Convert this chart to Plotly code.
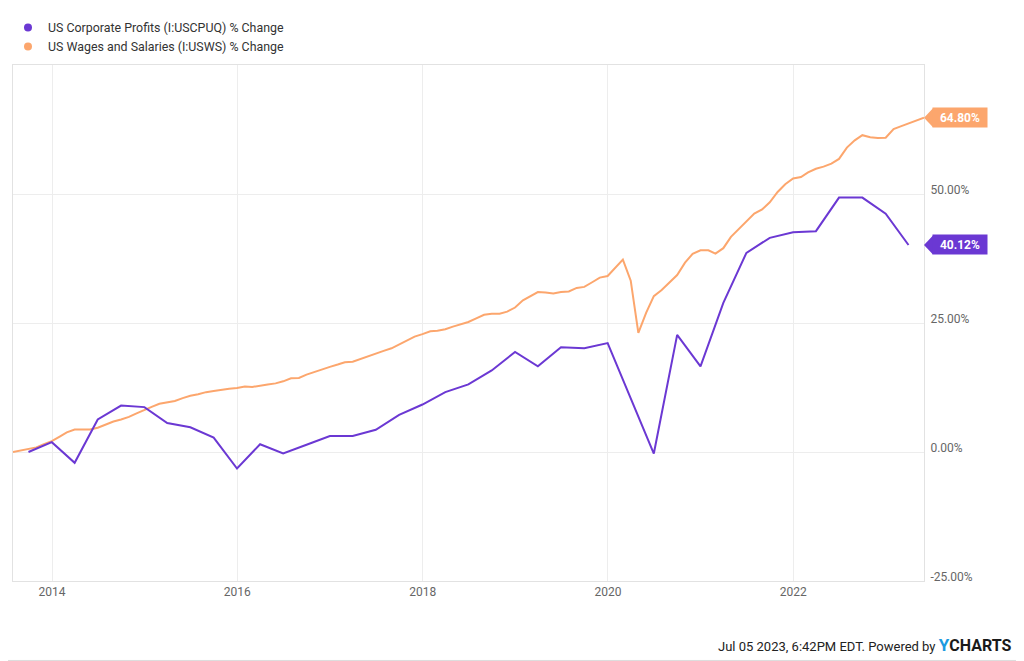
import pandas as pd
import plotly.graph_objects as go

# ---------------- data ----------------
def month_ends(start, n):
    try:
        return pd.date_range(start, periods=n, freq="ME")
    except Exception:
        return pd.date_range(start, periods=n, freq="M")

def quarter_ends(start, n):
    try:
        return pd.date_range(start, periods=n, freq="QE")
    except Exception:
        return pd.date_range(start, periods=n, freq="Q")

profits_name = "US Corporate Profits (I:USCPUQ) % Change"
wages_name = "US Wages and Salaries (I:USWS) % Change"

# quarterly, Q3 2013 .. Q1 2023
profits_dates = quarter_ends("2013-09-30", 39)
profits_pct = [
    0.0, 1.9, -2.1, 6.3, 9.0, 8.7, 5.6, 4.8, 2.8, -3.2,
    1.5, -0.3, 1.4, 3.1, 3.1, 4.3, 7.2, 9.2, 11.6, 13.1,
    15.8, 19.4, 16.6, 20.3, 20.1, 21.1, 10.4, -0.3, 22.7, 16.6,
    28.9, 38.6, 41.5, 42.6, 42.8, 49.3, 49.3, 46.2, 40.12,
]

# monthly, Jul 2013 .. May 2023
wages_dates = month_ends("2013-07-31", 119)
wages_pct = [
    0.0, 0.3, 0.5, 0.9, 1.5, 2.1, 3.0, 3.8, 4.35, 4.35,
    4.35, 4.7, 5.3, 5.9, 6.3, 6.8, 7.5, 8.2, 8.8, 9.35,
    9.6, 9.9, 10.45, 10.9, 11.2, 11.6, 11.8, 12.1, 12.25, 12.4,
    12.7, 12.6, 12.9, 13.1, 13.3, 13.7, 14.3, 14.35, 15.0, 15.55,
    15.95, 16.5, 16.95, 17.4, 17.5, 18.05, 18.5, 19.1, 19.6, 20.1,
    20.85, 21.6, 22.35, 22.85, 23.4, 23.5, 23.8, 24.3, 24.7, 25.2,
    25.9, 26.6, 26.8, 26.8, 27.2, 28.0, 29.4, 30.2, 31.0, 30.9,
    30.7, 31.0, 31.1, 31.8, 32.0, 32.9, 33.8, 34.1, 35.8, 37.3,
    33.2, 23.1, 27.0, 30.2, 31.4, 32.9, 34.3, 36.7, 38.4, 39.1,
    39.1, 38.45, 39.5, 41.7, 43.2, 44.6, 46.2, 47.0, 48.4, 50.4,
    51.9, 53.0, 53.3, 54.2, 54.9, 55.3, 55.9, 56.8, 59.0, 60.4,
    61.4, 61.0, 60.85, 60.9, 62.6, 63.1, 63.7, 64.3, 64.8,
]

y_ticks = [-25, 0, 25, 50]
y_tick_text = ["%.2f%%" % v for v in y_ticks]

# ---------------- style ----------------
PURPLE = "#6b38d3"
ORANGE = "#fca66d"
GRID = "#ededed"
AXIS_LINE = "#e2e2e2"
TICK_COLOR = "#666666"
FONT = "Roboto, Arial, sans-serif"

fig = go.Figure()

fig.add_trace(go.Scatter(
    x=wages_dates, y=wages_pct, mode="lines", name=wages_name,
    line=dict(color=ORANGE, width=2), showlegend=False,
))
fig.add_trace(go.Scatter(
    x=profits_dates, y=profits_pct, mode="lines", name=profits_name,
    line=dict(color=PURPLE, width=2), showlegend=False,
))

# legend entries with round markers
fig.add_trace(go.Scatter(
    x=[None], y=[None], mode="markers", name=profits_name,
    marker=dict(color=PURPLE, size=8, symbol="circle"),
))
fig.add_trace(go.Scatter(
    x=[None], y=[None], mode="markers", name=wages_name,
    marker=dict(color=ORANGE, size=8, symbol="circle"),
))

# last value badges
for series, color in ((wages_pct, ORANGE), (profits_pct, PURPLE)):
    last = series[-1]
    fig.add_annotation(
        xref="paper", yref="y", x=1, y=last, xanchor="left", yanchor="middle",
        xshift=8, text="<b>%.2f%%</b>" % last, showarrow=False,
        bgcolor=color, borderpad=2, width=50, height=15, align="center",
        font=dict(family=FONT, size=12, color="white"),
    )
    fig.add_shape(
        type="path", xref="paper", yref="y", xsizemode="pixel", ysizemode="pixel",
        xanchor=1, yanchor=last, path="M0,0 L9,9.5 L9,-9.5 Z",
        fillcolor=color, line=dict(width=0),
    )

# footer
fig.add_annotation(
    xref="paper", yref="paper", x=1.098, y=-0.124, xanchor="right", yanchor="middle",
    showarrow=False,
    text=("<span style='color:#222222'>Jul 05 2023, 6:42PM EDT. Powered by </span>"
          "<span style='color:#1d9be0;font-size:17px'><b>Y</b></span>"
          "<span style='color:#1a1a1a;font-size:16px'><b>CHARTS</b></span>"),
    font=dict(family=FONT, size=13, color="#222222"),
)

# outer frame (right and bottom edges of the image)
fig.add_shape(type="line", xref="paper", yref="paper", x0=1.109, x1=1.109,
              y0=-0.154, y1=1.12, line=dict(color="#dcdcdc", width=1))
fig.add_shape(type="line", xref="paper", yref="paper", x0=-0.006, x1=1.109,
              y0=-0.154, y1=-0.154, line=dict(color="#dcdcdc", width=1))

fig.update_layout(
    width=1016, height=653,
    margin=dict(l=5, r=100, t=57, b=80, autoexpand=False),
    paper_bgcolor="white", plot_bgcolor="white",
    font=dict(family=FONT, size=12, color=TICK_COLOR),
    showlegend=True,
    legend=dict(
        x=-0.0055, y=1.101, xanchor="left", yanchor="top",
        font=dict(family=FONT, size=12.4, color="#333333"),
        bgcolor="rgba(0,0,0,0)", itemwidth=30, tracegroupgap=0,
    ),
    xaxis=dict(
        type="date", range=["2013-07-31", "2023-05-31"],
        tick0="2014-01-01", dtick="M24", tickformat="%Y",
        showgrid=True, gridcolor=GRID, zeroline=False,
        showline=True, mirror=True, linecolor=AXIS_LINE, linewidth=1,
        ticks="", tickfont=dict(family=FONT, size=12, color=TICK_COLOR),
    ),
    yaxis=dict(
        side="right", range=[-25, 75], tickvals=y_ticks, ticktext=y_tick_text,
        showgrid=True, gridcolor=GRID, zeroline=False,
        showline=True, mirror=True, linecolor=AXIS_LINE, linewidth=1,
        ticks="", ticklabelshift=-4, ticklabelstandoff=3,
        tickfont=dict(family=FONT, size=12, color=TICK_COLOR),
    ),
    hovermode=False,
)

fig.write_html("out.html")
